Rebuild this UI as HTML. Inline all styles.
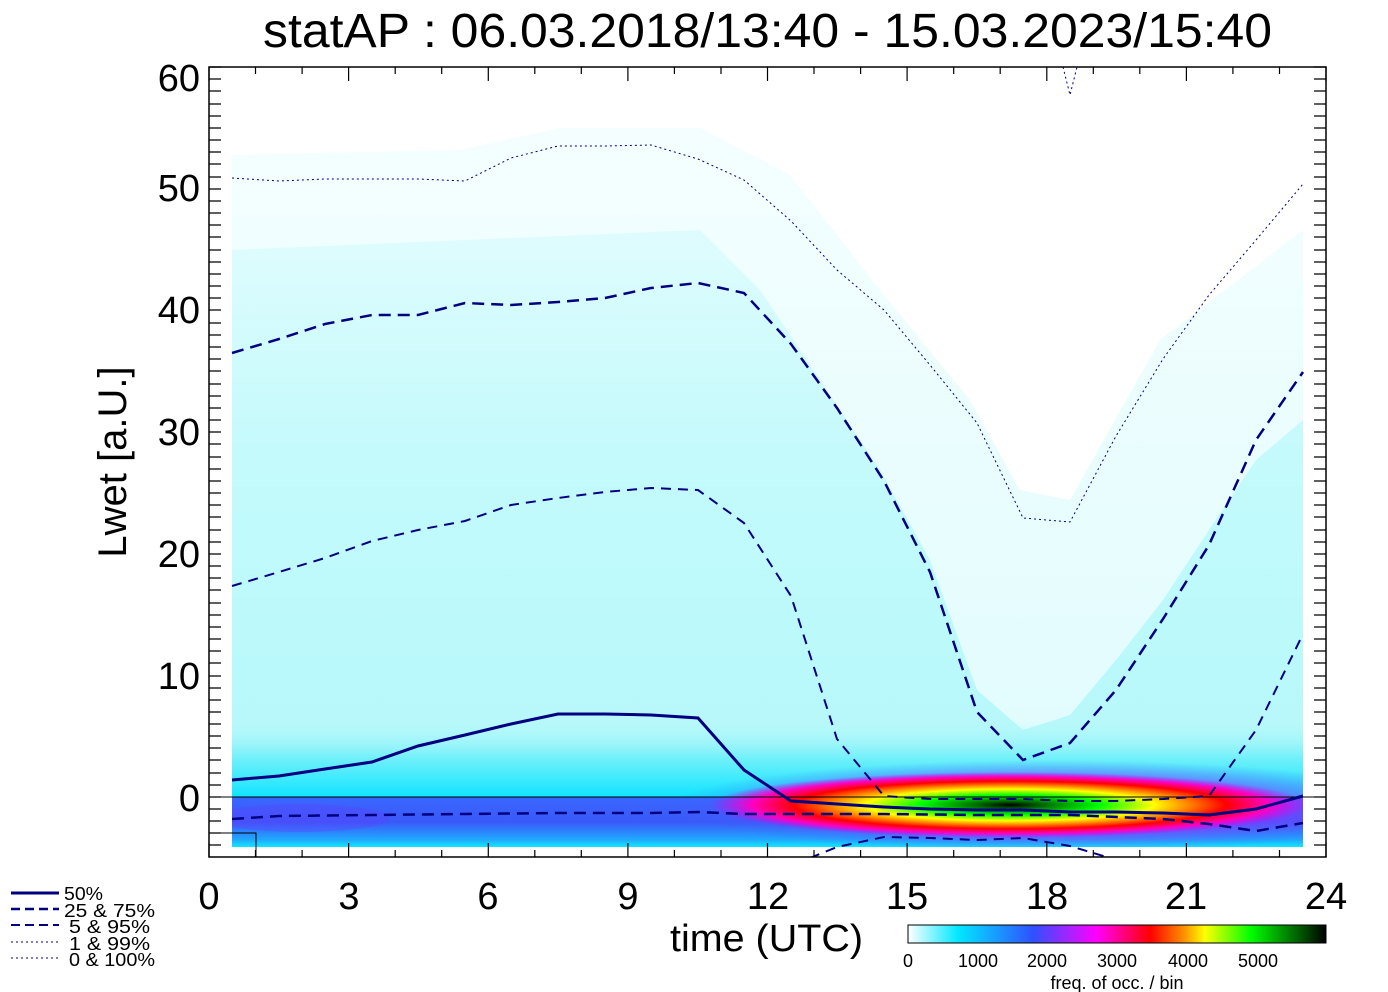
<!DOCTYPE html>
<html><head><meta charset="utf-8"><style>
body{margin:0;background:#fff;}
svg{display:block;font-family:"Liberation Sans",sans-serif;}
</style></head><body>
<svg width="1388" height="992" viewBox="0 0 1388 992" xmlns="http://www.w3.org/2000/svg">
<defs>
<linearGradient id="cb" x1="0" x2="1" y1="0" y2="0">
<stop offset="0" stop-color="#ffffff"/>
<stop offset="0.12" stop-color="#00e8ff"/>
<stop offset="0.3" stop-color="#3050ff"/>
<stop offset="0.45" stop-color="#ff00ff"/>
<stop offset="0.58" stop-color="#ff0000"/>
<stop offset="0.66" stop-color="#ff9000"/>
<stop offset="0.71" stop-color="#ffff00"/>
<stop offset="0.82" stop-color="#00ff00"/>
<stop offset="1" stop-color="#000000"/>
</linearGradient>
<linearGradient id="pale" x1="0" x2="0" y1="0" y2="1">
<stop offset="0" stop-color="#f4feff"/>
<stop offset="1" stop-color="#e0fcfd"/>
</linearGradient>
<linearGradient id="mid" x1="0" x2="0" y1="0" y2="1">
<stop offset="0" stop-color="#dffcfd"/>
<stop offset="0.4" stop-color="#c4fafc"/>
<stop offset="1" stop-color="#b4f8fa"/>
</linearGradient>
<linearGradient id="low" x1="0" x2="0" y1="0" y2="1">
<stop offset="0" stop-color="#b4f8fa" stop-opacity="0"/>
<stop offset="0.5" stop-color="#70f0fa"/>
<stop offset="1" stop-color="#10e4ff"/>
</linearGradient>
<linearGradient id="neg" x1="0" x2="0" y1="0" y2="1">
<stop offset="0" stop-color="#3a68ff"/>
<stop offset="0.5" stop-color="#3a58f8"/>
<stop offset="0.85" stop-color="#20a8ff"/>
<stop offset="1" stop-color="#10e8ff"/>
</linearGradient>
<radialGradient id="hot" cx="0.5" cy="0.5" r="0.5">
<stop offset="0" stop-color="#000000"/>
<stop offset="0.1" stop-color="#006000"/>
<stop offset="0.3" stop-color="#00ff00"/>
<stop offset="0.48" stop-color="#ffff00"/>
<stop offset="0.6" stop-color="#ff8000"/>
<stop offset="0.72" stop-color="#ff0000"/>
<stop offset="0.86" stop-color="#ff00c0"/>
<stop offset="1" stop-color="#d000ff" stop-opacity="0"/>
</radialGradient>
<radialGradient id="halo" cx="0.5" cy="0.5" r="0.5">
<stop offset="0" stop-color="#ff00ff" stop-opacity="0.8"/>
<stop offset="0.7" stop-color="#8040ff" stop-opacity="0.5"/>
<stop offset="1" stop-color="#4060ff" stop-opacity="0"/>
</radialGradient>
<clipPath id="pc"><rect x="209" y="67" width="1117" height="790"/></clipPath>
<clipPath id="dc"><rect x="232" y="67" width="1071" height="780"/></clipPath>
</defs>

<!-- field -->
<g clip-path="url(#dc)">
<polygon fill="url(#pale)" points="232,155 460,150 560,128 700,128 790,175 880,290 970,400 1020,490 1070,500 1160,340 1303,230 1303,797 232,797"/>
<polygon fill="url(#mid)" points="232,250 700,230 760,290 820,380 880,470 930,560 977,690 1023,730 1070,715 1116,660 1163,600 1209,530 1256,460 1303,420 1303,797 232,797"/>
<rect x="232" y="720" width="1071" height="77" fill="url(#low)"/>
<rect x="232" y="797" width="1071" height="50" fill="url(#neg)"/>
<ellipse cx="300" cy="818" rx="90" ry="14" fill="#6040ff" opacity="0.35"/>
<ellipse cx="1050" cy="806" rx="380" ry="46" fill="url(#halo)"/>
<ellipse cx="1010" cy="805" rx="300" ry="33" fill="url(#hot)"/>
</g>

<!-- zero line -->
<line x1="209" y1="797" x2="1326" y2="797" stroke="#000" stroke-width="1"/>
<polyline points="209,833 256,833 256,857" fill="none" stroke="#000" stroke-width="1"/>

<!-- lines -->
<g clip-path="url(#pc)" fill="none" stroke="#000080">
<polyline stroke-width="3" points="232,780 279,776 325,769 372,762 418,746 465,735 511,724 558,714 605,714 651,715 698,718 744,770 791,801 837,804 884,807 930,809 977,810 1023,810 1070,812 1116,812 1163,813 1209,815 1256,809 1303,796"/>
<polyline stroke-width="2.5" stroke-dasharray="12,7" points="232,353 279,339 325,324 372,315 418,315 465,303 511,305 558,302 605,298 651,288 698,283 744,293 791,344 837,408 884,481 930,572 977,712 1023,760 1070,743 1116,690 1163,619 1209,545 1256,440 1303,372"/>
<polyline stroke-width="2.5" stroke-dasharray="12,7" points="232,819 279,816 372,815 465,814 558,813 651,813 698,812 744,814 791,814 884,814 977,815 1070,815 1163,819 1209,824 1256,831 1303,823"/>
<polyline stroke-width="2" stroke-dasharray="10,7" points="232,586 279,572 325,558 372,541 418,530 465,521 511,505 558,498 605,492 651,488 698,490 744,523 791,596 837,739 884,796 930,799 977,799 1023,799 1070,801 1116,801 1163,799 1209,796 1256,730 1303,634"/>
<polyline stroke-width="2" stroke-dasharray="10,7" points="810,858 837,847 884,837 930,838 977,840 1023,838 1070,846 1110,858"/>
<polyline stroke-width="1" stroke-dasharray="2,3" points="232,178 279,181 325,179 418,179 465,181 511,158 558,146 605,146 651,145 698,159 744,180 791,221 837,270 884,310 930,365 977,423 1023,518 1070,522 1116,436 1163,359 1209,295 1256,240 1303,184"/>
<polyline stroke-width="1" stroke-dasharray="2,3" points="1063,67 1070,95 1077,67"/>
</g>

<!-- frame & ticks -->
<rect x="209" y="67" width="1117" height="790" fill="none" stroke="#000" stroke-width="1.5"/>
<g stroke="#000" stroke-width="1.2">
<path d="M209.0,857v-14M209.0,67v14M255.5,857v-7M255.5,67v7M302.1,857v-7M302.1,67v7M348.6,857v-14M348.6,67v14M395.2,857v-7M395.2,67v7M441.7,857v-7M441.7,67v7M488.3,857v-14M488.3,67v14M534.8,857v-7M534.8,67v7M581.3,857v-7M581.3,67v7M627.9,857v-14M627.9,67v14M674.4,857v-7M674.4,67v7M721.0,857v-7M721.0,67v7M767.5,857v-14M767.5,67v14M814.0,857v-7M814.0,67v7M860.6,857v-7M860.6,67v7M907.1,857v-14M907.1,67v14M953.7,857v-7M953.7,67v7M1000.2,857v-7M1000.2,67v7M1046.8,857v-14M1046.8,67v14M1093.3,857v-7M1093.3,67v7M1139.8,857v-7M1139.8,67v7M1186.4,857v-14M1186.4,67v14M1232.9,857v-7M1232.9,67v7M1279.5,857v-7M1279.5,67v7M1326.0,857v-14M1326.0,67v14"/>
<path d="M209,845h12M209,833h12M209,821h12M209,809h12M209,797h12M209,785h12M209,773h12M209,760h12M209,748h12M209,736h12M209,724h12M209,712h12M209,700h12M209,688h12M209,676h12M209,663h12M209,651h12M209,639h12M209,627h12M209,615h12M209,603h12M209,590h12M209,578h12M209,566h12M209,554h12M209,542h12M209,530h12M209,517h12M209,505h12M209,493h12M209,481h12M209,469h12M209,457h12M209,444h12M209,432h12M209,420h12M209,408h12M209,396h12M209,384h12M209,371h12M209,359h12M209,347h12M209,335h12M209,323h12M209,310h12M209,298h12M209,286h12M209,274h12M209,262h12M209,250h12M209,237h12M209,225h12M209,213h12M209,201h12M209,189h12M209,177h12M209,164h12M209,152h12M209,140h12M209,128h12M209,116h12M209,104h12M209,91h12M209,79h12M209,67h12"/>
<path d="M1326,845h-12M1326,833h-12M1326,821h-12M1326,809h-12M1326,797h-12M1326,785h-12M1326,773h-12M1326,760h-12M1326,748h-12M1326,736h-12M1326,724h-12M1326,712h-12M1326,700h-12M1326,688h-12M1326,676h-12M1326,663h-12M1326,651h-12M1326,639h-12M1326,627h-12M1326,615h-12M1326,603h-12M1326,590h-12M1326,578h-12M1326,566h-12M1326,554h-12M1326,542h-12M1326,530h-12M1326,517h-12M1326,505h-12M1326,493h-12M1326,481h-12M1326,469h-12M1326,457h-12M1326,444h-12M1326,432h-12M1326,420h-12M1326,408h-12M1326,396h-12M1326,384h-12M1326,371h-12M1326,359h-12M1326,347h-12M1326,335h-12M1326,323h-12M1326,310h-12M1326,298h-12M1326,286h-12M1326,274h-12M1326,262h-12M1326,250h-12M1326,237h-12M1326,225h-12M1326,213h-12M1326,201h-12M1326,189h-12M1326,177h-12M1326,164h-12M1326,152h-12M1326,140h-12M1326,128h-12M1326,116h-12M1326,104h-12M1326,91h-12M1326,79h-12M1326,67h-12"/>
</g>

<!-- labels -->
<text x="263" y="47" font-size="48" textLength="1009" lengthAdjust="spacingAndGlyphs">statAP : 06.03.2018/13:40 - 15.03.2023/15:40</text>
<g font-size="38" text-anchor="end">
<text x="200" y="811">0</text><text x="200" y="689">10</text><text x="200" y="567">20</text>
<text x="200" y="445">30</text><text x="200" y="323">40</text><text x="200" y="201">50</text><text x="200" y="91">60</text>
</g>
<g font-size="38" text-anchor="middle">
<text x="209" y="909">0</text><text x="349" y="909">3</text><text x="488" y="909">6</text><text x="628" y="909">9</text>
<text x="768" y="909">12</text><text x="907" y="909">15</text><text x="1047" y="909">18</text><text x="1186" y="909">21</text><text x="1326" y="909">24</text>
</g>
<text x="670" y="951" font-size="38" textLength="193" lengthAdjust="spacingAndGlyphs">time (UTC)</text>
<text transform="translate(126,462) rotate(-90)" font-size="40" text-anchor="middle">Lwet [a.U.]</text>

<!-- colorbar -->
<rect x="908" y="925" width="418" height="18" fill="url(#cb)"/>
<rect x="908" y="925" width="418" height="18" fill="none" stroke="#000" stroke-width="1"/>
<g font-size="18" text-anchor="middle">
<text x="908" y="967">0</text><text x="978" y="967">1000</text><text x="1047" y="967">2000</text>
<text x="1117" y="967">3000</text><text x="1188" y="967">4000</text><text x="1258" y="967">5000</text>
<text x="1117" y="989">freq. of occ. / bin</text>
</g>

<!-- legend -->
<g stroke="#000080" fill="none">
<line x1="11" y1="893" x2="59" y2="893" stroke-width="3"/>
<line x1="11" y1="909" x2="59" y2="909" stroke-width="2.5" stroke-dasharray="9,5"/>
<line x1="11" y1="925" x2="59" y2="925" stroke-width="2" stroke-dasharray="9,5"/>
<line x1="11" y1="942" x2="59" y2="942" stroke-width="1" stroke-dasharray="2,3"/>
<line x1="11" y1="958" x2="59" y2="958" stroke-width="1" stroke-dasharray="2,3"/>
</g>
<g font-size="18">
<text x="64" y="900" textLength="39" lengthAdjust="spacingAndGlyphs">50%</text>
<text x="64" y="917" textLength="91" lengthAdjust="spacingAndGlyphs">25 &amp;  75%</text>
<text x="69" y="933" textLength="81" lengthAdjust="spacingAndGlyphs">5 &amp;  95%</text>
<text x="69" y="950" textLength="81" lengthAdjust="spacingAndGlyphs">1 &amp;  99%</text>
<text x="69" y="966" textLength="86" lengthAdjust="spacingAndGlyphs">0 &amp; 100%</text>
</g>
</svg>
</body></html>
